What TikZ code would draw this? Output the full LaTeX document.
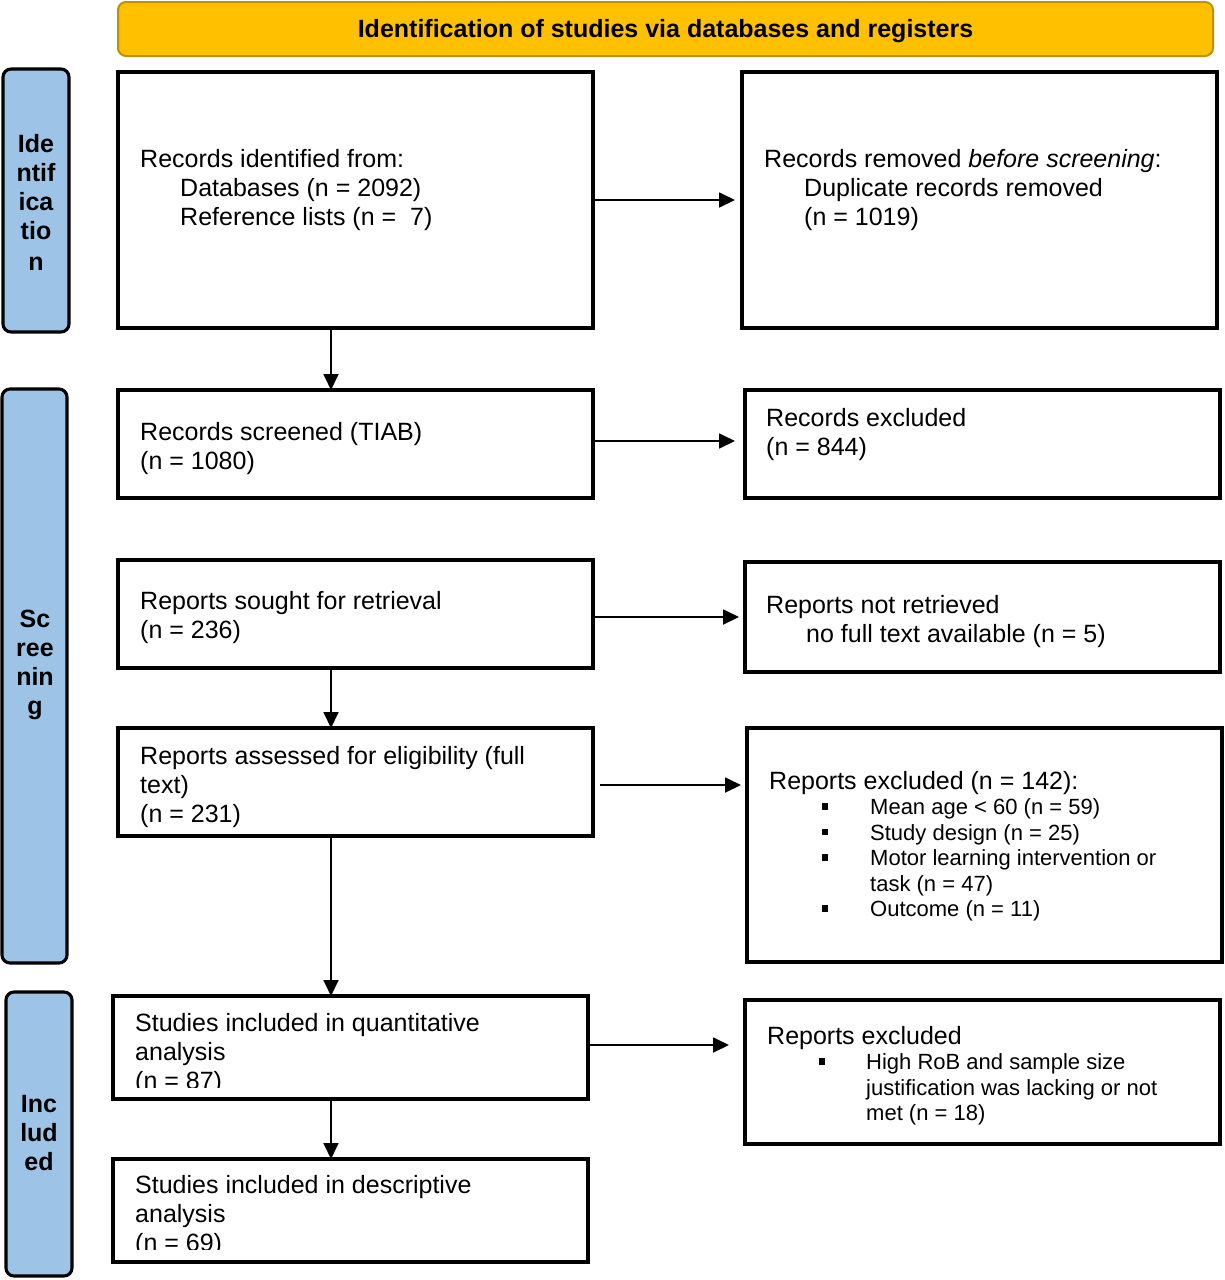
\documentclass[tikz,border=0pt]{standalone}
\usepackage{fontspec}
\setmainfont{Liberation Sans}
\usetikzlibrary{arrows.meta}
\definecolor{hdr}{HTML}{FFC000}
\definecolor{hdrline}{HTML}{C09000}
\definecolor{side}{HTML}{9DC3E6}
\newcommand\mytab[1]{\begin{tabular}[t]{@{}l@{}}#1\end{tabular}}
\newcommand\bul{\rule[5pt]{6pt}{6.5pt}}
\newcommand\ind{\hspace*{40pt}}
\newcommand\bcolA{\makebox[101pt][l]{\hspace*{53pt}\bul}}
\newcommand\bcolB{\makebox[99pt][l]{\hspace*{52pt}\bul}}
\begin{document}
\begin{tikzpicture}[x=1pt,y=-1pt,
  box/.style={draw=black, line width=3.1pt, inner sep=0pt, outer sep=0pt, anchor=north west},
  txt/.style={inner sep=0pt, anchor=base west, font=\fontsize{25}{29}\selectfont},
  small/.style={inner sep=0pt, anchor=base west, font=\fontsize{22}{25.5}\selectfont},
  sidebox/.style={draw=black, line width=3.1pt, fill=side, rounded corners=8pt, inner sep=0pt, outer sep=0pt, anchor=north west, minimum width=66pt},
  sidetxt/.style={inner sep=0pt, anchor=base, font=\fontsize{25}{29}\selectfont\bfseries},
  arr/.style={line width=1.8pt, -{Triangle[length=16pt,width=15pt]}},
]
\useasboundingbox (0,0) rectangle (1225,1280);

% header
\node[draw=hdrline, line width=2pt, fill=hdr, rounded corners=8pt, minimum width=1095pt, minimum height=54pt,
      anchor=north west, inner sep=0pt, outer sep=0pt, font=\fontsize{25}{29}\selectfont\bfseries,
      text height=19pt, text depth=2pt] (hdr) at (118,2) {Identification of studies via databases and registers};

% side labels
\node[sidebox, minimum height=263pt] (s1) at (3,69) {};
\node[sidebox, minimum height=574pt, minimum width=65pt] (s2) at (2,389) {};
\node[sidebox, minimum height=284pt] (s3) at (6,992) {};
\node[sidetxt] (s1t) at (36,152) {\begin{tabular}[t]{@{}c@{}}Ide\\ntif\\ica\\tio\\[2pt]n\end{tabular}};
\node[sidetxt] (s2t) at (35,627) {\begin{tabular}[t]{@{}c@{}}Sc\\ree\\nin\\g\end{tabular}};
\node[sidetxt] (s3t) at (39,1112) {\begin{tabular}[t]{@{}c@{}}Inc\\lud\\ed\end{tabular}};

% left column boxes
\node[box, minimum width=475pt, minimum height=256pt] (b1) at (118,72) {};
\node[box, minimum width=475pt, minimum height=108pt] (b2) at (118,390) {};
\node[box, minimum width=475pt, minimum height=108pt] (b3) at (118,560) {};
\node[box, minimum width=475pt, minimum height=108pt] (b4) at (118,728) {};
\node[box, minimum width=475pt, minimum height=103pt] (b5) at (113,996) {};
\node[box, minimum width=475pt, minimum height=103pt] (b6) at (113,1159) {};

% right column boxes
\node[box, minimum width=475pt, minimum height=256pt] (r1) at (742,72) {};
\node[box, minimum width=475pt, minimum height=108pt] (r2) at (745,390) {};
\node[box, minimum width=475pt, minimum height=110pt] (r3) at (745,562) {};
\node[box, minimum width=475pt, minimum height=234pt] (r4) at (747,728) {};
\node[box, minimum width=475pt, minimum height=144pt] (r5) at (745,1000) {};

% texts
\node[txt] (tb1) at (140,167) {\mytab{Records identified from:\\ \ind Databases (n = 2092)\\ \ind Reference lists (n =\ \ 7)}};
\node[txt] (tr1) at (764,167) {\mytab{Records removed \textit{before screening}:\\ \ind Duplicate records removed\\ \ind (n = 1019)}};
\node[txt] (tb2) at (140,440) {\mytab{Records screened (TIAB)\\(n = 1080)}};
\node[txt] (tr2) at (766,426) {\mytab{Records excluded\\(n = 844)}};
\node[txt] (tb3) at (140,609) {\mytab{Reports sought for retrieval\\(n = 236)}};
\node[txt] (tr3) at (766,613) {\mytab{Reports not retrieved\\ \ind no full text available (n = 5)}};
\node[txt] (tb4) at (140,764) {\mytab{Reports assessed for eligibility (full\\text)\\(n = 231)}};
\node[small] (tr4) at (769,789) {\begin{tabular}[t]{@{}l@{}l@{}}
\multicolumn{2}{@{}l@{}}{\fontsize{25}{29}\selectfont Reports excluded (n = 142):}\\
\bcolA & Mean age < 60 (n = 59)\\
\bcolA & Study design (n = 25)\\
\bcolA & Motor learning intervention or\\
 & task (n = 47)\\
\bcolA & Outcome (n = 11)
\end{tabular}};
\begin{scope}
\clip (100,990) rectangle (590,1087);
\node[txt] (tb5) at (135,1031) {\mytab{Studies included in quantitative\\analysis\\(n = 87)}};
\end{scope}
\begin{scope}
\clip (100,1150) rectangle (590,1249);
\node[txt] (tb6) at (135,1193) {\mytab{Studies included in descriptive\\analysis\\(n = 69)}};
\end{scope}
\node[small] (tr5) at (767,1044) {\begin{tabular}[t]{@{}l@{}l@{}}
\multicolumn{2}{@{}l@{}}{\fontsize{25}{29}\selectfont Reports excluded}\\
\bcolB & High RoB and sample size\\
 & justification was lacking or not\\
 & met (n = 18)
\end{tabular}};

% connectors
\coordinate (vx) at (331,0);
\coordinate (a2) at ([yshift=3pt]b2.east);
\coordinate (a3) at ([yshift=-3pt]b3.east);
\coordinate (a4) at ([yshift=-3pt]b4.east);
\coordinate (a5) at ([yshift=2.5pt]b5.east);
\draw[arr, shorten >=7pt] (b1.east) -- (b1.east -| r1.west);
\draw[arr, shorten >=10pt] (a2) -- (a2 -| r2.west);
\draw[arr, shorten >=6pt] (a3) -- (a3 -| r3.west);
\draw[arr, shorten <=7pt, shorten >=6pt] (a4) -- (a4 -| r4.west);
\draw[arr, shorten >=16pt] (a5) -- (a5 -| r5.west);
\draw[arr] (b1.south -| vx) -- (b2.north -| vx);
\draw[arr] (b3.south -| vx) -- (b4.north -| vx);
\draw[arr] (b4.south -| vx) -- (b5.north -| vx);
\draw[arr] (b5.south -| vx) -- (b6.north -| vx);
\end{tikzpicture}
\end{document}
